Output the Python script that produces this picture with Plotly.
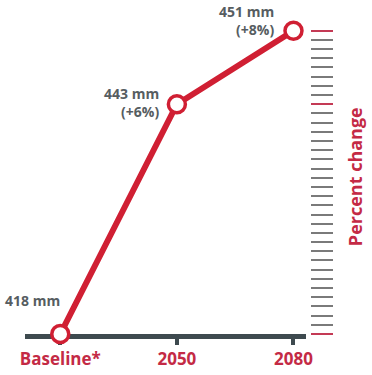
import plotly.graph_objects as go

categories = ["Baseline*", "2050", "2080"]
rainfall_mm = [418, 443, 451]
value_labels = ["418 mm", "443 mm<br>(+6%)", "451 mm<br>(+8%)"]
right_axis_title = "Percent change"

RED = "#d01f33"
LABEL_RED = "#c42a45"
GREY_TXT = "#565d61"
AXIS = "#3e4a4f"
FONT = "Open Sans"

fig = go.Figure()

fig.add_trace(go.Scatter(
    x=list(range(len(categories))), y=rainfall_mm,
    mode="lines+markers",
    line=dict(color=RED, width=6),
    marker=dict(size=17, color="white", line=dict(color=RED, width=3.5)),
    cliponaxis=False, hoverinfo="skip", showlegend=False,
))

# value labels
shifts = [(2, 22, "bottom"), (-16, 2, "middle"), (-17, 10, "middle")]
for i, (lab, (xs, ys, ya)) in enumerate(zip(value_labels, shifts)):
    fig.add_annotation(
        x=i, y=rainfall_mm[i], xref="x", yref="y", text=f"<b>{lab}</b>",
        showarrow=False, xanchor="right", yanchor=ya, align="right",
        xshift=xs, yshift=ys,
        font=dict(family=FONT, size=14, color=GREY_TXT),
    )

# percent change title
fig.add_annotation(
    x=0.971, y=0.47, xref="paper", yref="paper", text=f"<b>{right_axis_title}</b>",
    textangle=-90, showarrow=False, xanchor="center", yanchor="middle",
    font=dict(family=FONT, size=18, color=LABEL_RED),
)

lo, hi = min(rainfall_mm), max(rainfall_mm)
mm_ticks = list(range(lo, hi + 1))
grey_ticks = [v for v in mm_ticks if v not in rainfall_mm]

px_per_mm = 9.19
plot_h = 334
y_top = lo + plot_h / px_per_mm

fig.update_layout(
    width=372, height=375,
    margin=dict(l=25, r=0, t=0, b=41),
    paper_bgcolor="white", plot_bgcolor="white",
    xaxis=dict(
        domain=[0, 0.8271], range=[-0.3025, 2.1092],
        tickmode="array", tickvals=list(range(len(categories))),
        ticktext=[f"<b>{c}</b>" for c in categories],
        tickfont=dict(family=FONT, size=17, color=LABEL_RED),
        showline=True, linewidth=5, linecolor=AXIS,
        ticks="outside", ticklen=6, tickwidth=4, tickcolor=AXIS,
        showgrid=False, zeroline=False, layer="below traces",
        fixedrange=True,
    ),
    yaxis=dict(range=[lo, y_top], visible=False, fixedrange=True),
    yaxis2=dict(
        overlaying="y", anchor="free", side="right", position=0.8386,
        range=[lo, y_top], tickmode="array", tickvals=grey_ticks,
        ticks="outside", ticklen=22, tickwidth=1.5, tickcolor="#7a7a7a",
        showticklabels=False, showline=False, showgrid=False, zeroline=False,
    ),
    yaxis3=dict(
        overlaying="y", anchor="free", side="right", position=0.8386,
        range=[lo, y_top], tickmode="array", tickvals=rainfall_mm,
        ticks="outside", ticklen=22, tickwidth=1.5, tickcolor="#c43a55",
        showticklabels=False, showline=False, showgrid=False, zeroline=False,
    ),
)

# invisible traces to activate the right-hand axes
fig.add_trace(go.Scatter(x=[0], y=[lo], yaxis="y2", mode="markers",
                         marker=dict(opacity=0), hoverinfo="skip", showlegend=False))
fig.add_trace(go.Scatter(x=[0], y=[lo], yaxis="y3", mode="markers",
                         marker=dict(opacity=0), hoverinfo="skip", showlegend=False))

fig.write_html(
    "out.html",
    config={"displayModeBar": False},
    post_script="document.body.style.margin='0';document.body.style.overflow='hidden';",
)
